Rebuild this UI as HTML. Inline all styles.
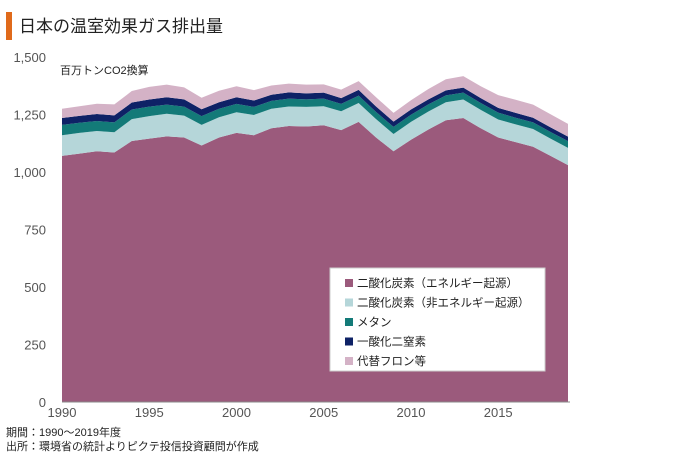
<!DOCTYPE html>
<html><head><meta charset="utf-8"><style>
body{margin:0;background:#fff;font-family:"Liberation Sans","Noto Sans CJK JP",sans-serif;}
#wrap{position:relative;width:680px;height:456px;overflow:hidden;}
</style></head><body>
<div id="wrap">
<svg id="svg" width="680" height="456">
<rect x="6" y="12" width="6" height="28" fill="#e06a1b"/>
<text x="19" y="32" font-size="17" fill="#222" font-family="Liberation Sans, Noto Sans CJK JP, sans-serif">日本の温室効果ガス排出量</text>
<text x="60" y="74" font-size="11" fill="#222" font-family="Liberation Sans, Noto Sans CJK JP, sans-serif">百万トンCO2換算</text>
<g id="areas"></g><g id="axes"></g>
<g>
<rect x="330" y="268" width="215" height="103" fill="#fff" stroke="#ccc"/>
<g id="legend"></g></g>
<text x="6" y="436" font-size="11" fill="#222" font-family="Liberation Sans, Noto Sans CJK JP, sans-serif">期間：1990～2019年度</text>
<text x="6" y="450" font-size="11" fill="#222" font-family="Liberation Sans, Noto Sans CJK JP, sans-serif">出所：環境省の統計よりピクテ投信投資顧問が作成</text>
</svg></div>
<script>
const years=[1990,1991,1992,1993,1994,1995,1996,1997,1998,1999,2000,2001,2002,2003,2004,2005,2006,2007,2008,2009,2010,2011,2012,2013,2014,2015,2016,2017,2018,2019];
const co2Energy=[1070,1080,1090,1085,1135,1145,1155,1150,1115,1150,1170,1160,1190,1200,1198,1203,1182,1218,1150,1090,1140,1185,1225,1235,1190,1150,1130,1110,1070,1030];
const co2NonEnergy=[90,90,88,88,95,98,98,95,90,88,90,88,85,85,85,83,82,82,80,75,78,78,78,80,80,78,77,77,75,75];
const methane=[45,44,44,43,42,41,40,39,38,37,36,35,34,34,33,33,32,32,31,31,31,31,30,30,30,30,29,29,29,29];
const n2o=[30,30,30,30,30,31,32,32,30,28,29,28,27,27,26,26,25,25,24,23,23,22,22,22,21,21,21,20,20,20];
const fgas=[40,42,45,48,50,55,55,52,50,50,48,45,40,38,38,36,37,38,40,38,40,45,48,50,52,55,57,57,57,55];
const seriesNames=["二酸化炭素（エネルギー起源）","二酸化炭素（非エネルギー起源）","メタン","一酸化二窒素","代替フロン等"];
const yTicks=[0,250,500,750,1000,1250,1500];
const xTicks=[1990,1995,2000,2005,2010,2015];
const colors=["#9b5a7c","#b5d6d9","#137a78","#0e2266","#d4b2c6"];
const series=[co2Energy,co2NonEnergy,methane,n2o,fgas];
const NS="http://www.w3.org/2000/svg";
const x=v=>62+(v-1990)*(568-62)/29;
const y=v=>402-v*(402-57)/1500;
const F="Liberation Sans, Noto Sans CJK JP, sans-serif";
const areas=document.getElementById('areas'),axes=document.getElementById('axes'),leg=document.getElementById('legend');
let base=years.map(()=>0);
series.forEach((s,i)=>{
  const top=base.map((b,j)=>b+s[j]);
  let d=years.map((yr,j)=>(j?'L':'M')+x(yr)+','+y(top[j])).join('');
  for(let j=years.length-1;j>=0;j--)d+='L'+x(years[j])+','+y(base[j]);
  const p=document.createElementNS(NS,'path');
  p.setAttribute('d',d+'Z');p.setAttribute('fill',colors[i]);
  
  
  areas.appendChild(p);base=top;
});
const ax=document.createElementNS(NS,'line');
ax.setAttribute('x1',62);ax.setAttribute('x2',570);ax.setAttribute('y1',402);ax.setAttribute('y2',402);ax.setAttribute('stroke','#888');


axes.appendChild(ax);
yTicks.forEach(v=>{const t=document.createElementNS(NS,'text');
t.setAttribute('x',46);t.setAttribute('y',y(v)+5);t.setAttribute('text-anchor','end');t.setAttribute('font-size','13');t.setAttribute('fill','#555');t.setAttribute('font-family',F);
t.textContent=v.toLocaleString('en-US');


axes.appendChild(t);});
xTicks.forEach(v=>{const t=document.createElementNS(NS,'text');
t.setAttribute('x',x(v));t.setAttribute('y',417);t.setAttribute('text-anchor','middle');t.setAttribute('font-size','13');t.setAttribute('fill','#555');t.setAttribute('font-family',F);
t.textContent=v;


axes.appendChild(t);});
seriesNames.forEach((n,i)=>{const yy=283+i*19.5;
const r=document.createElementNS(NS,'rect');r.setAttribute('x',345);r.setAttribute('y',yy-4);r.setAttribute('width',8);r.setAttribute('height',8);r.setAttribute('fill',colors[i]);


leg.appendChild(r);
const t=document.createElementNS(NS,'text');t.setAttribute('x',357);t.setAttribute('y',yy+4);t.setAttribute('font-size','11.5');t.setAttribute('fill','#222');t.setAttribute('font-family',F);t.textContent=n;


leg.appendChild(t);});
</script>
</body></html>
